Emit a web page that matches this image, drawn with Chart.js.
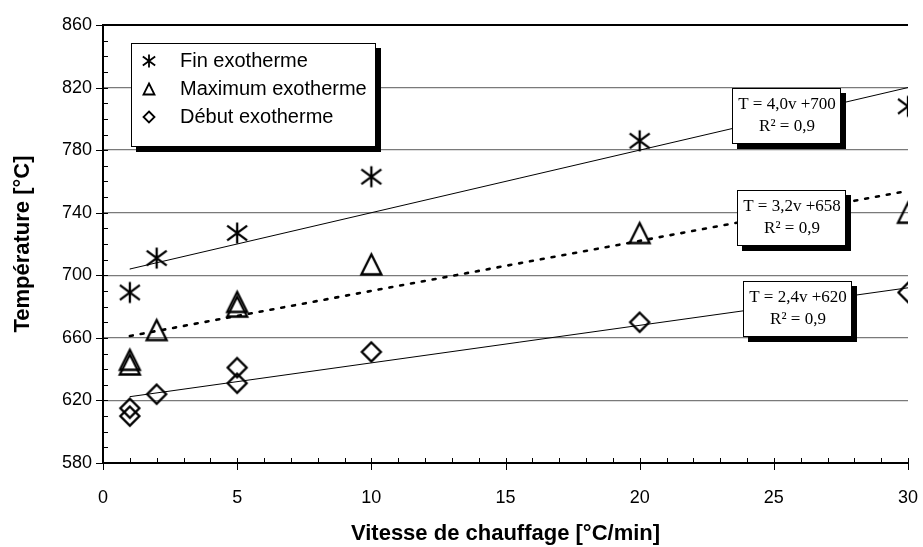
<!DOCTYPE html>
<html lang="fr">
<head>
<meta charset="utf-8">
<title>Température des exothermes</title>
<script src="https://cdn.jsdelivr.net/npm/chart.js@4.4.1/dist/chart.umd.min.js"></script>
<style>
  html, body { margin: 0; padding: 0; background: #fff; }
  #wrap { width: 923px; height: 547px; }
</style>
</head>
<body>
<div id="wrap"><canvas id="exoChart" width="923" height="547"></canvas></div>
<script>
// measured points: heating rate (°C/min) -> temperature (°C)
const seriesLabels = ['Fin exotherme', 'Maximum exotherme', 'Début exotherme'];
const finSpeed = [1, 2, 5, 10, 20, 30];
const finTemp  = [689, 711, 727, 763, 786, 808];
const maxSpeed = [1, 1, 2, 5, 5, 10, 20, 30];
const maxTemp  = [646, 643, 665, 683, 680, 707, 727, 740];
const debSpeed = [1, 1, 2, 5, 5, 10, 20, 30];
const debTemp  = [615, 610, 624, 641, 631, 651, 670, 689];

// linear fits T = a.v + b, drawn over v = 1..30
const fitSlope = [4.0, 3.2, 2.4];
const fitIntercept = [700, 658, 620];
const fitR2 = [0.9, 0.9, 0.9];
const fitRange = [1, 30];

const xTicks = [0, 5, 10, 15, 20, 25, 30];
const yTicks = [580, 620, 660, 700, 740, 780, 820, 860];

const SANS = "'Liberation Sans', Arial, sans-serif";
const SERIF = "'Liberation Serif', 'Times New Roman', serif";
const markerKinds = ['asterisk', 'triangle', 'diamond'];

function drawMarker(ctx, kind, cx, cy, s, lw) {
  const h = s / 2;
  ctx.save();
  ctx.strokeStyle = '#000';
  ctx.lineWidth = lw;
  ctx.beginPath();
  if (kind === 'asterisk') {
    ctx.moveTo(cx, cy - h); ctx.lineTo(cx, cy + h);
    ctx.moveTo(cx - h * 0.95, cy - h * 0.7); ctx.lineTo(cx + h * 0.95, cy + h * 0.7);
    ctx.moveTo(cx - h * 0.95, cy + h * 0.7); ctx.lineTo(cx + h * 0.95, cy - h * 0.7);
  } else if (kind === 'triangle') {
    ctx.moveTo(cx, cy - h); ctx.lineTo(cx + h, cy + h); ctx.lineTo(cx - h, cy + h);
    ctx.closePath();
  } else {
    ctx.moveTo(cx, cy - h); ctx.lineTo(cx + h, cy); ctx.lineTo(cx, cy + h); ctx.lineTo(cx - h, cy);
    ctx.closePath();
  }
  ctx.stroke();
  ctx.restore();
}

function markerCanvas(kind, s, lw) {
  const c = document.createElement('canvas');
  const size = Math.ceil(s + lw * 2 + 2);
  c.width = c.height = size;
  drawMarker(c.getContext('2d'), kind, size / 2, size / 2, s, lw);
  return c;
}

const pts = (xs, ys) => xs.map((v, i) => ({ x: v, y: ys[i] }));
const fitLine = i => fitRange.map(v => ({ x: v, y: fitSlope[i] * v + fitIntercept[i] }));
const frNum = (v, d) => v.toFixed(d).replace('.', ',');

function shadowBox(ctx, x, y, w, h) {
  ctx.fillStyle = '#000';
  ctx.fillRect(x + 5, y + 5, w, h);
  ctx.fillStyle = '#fff';
  ctx.fillRect(x, y, w, h);
  ctx.strokeStyle = '#000';
  ctx.lineWidth = 1;
  ctx.strokeRect(x + 0.5, y + 0.5, w - 1, h - 1);
}

// axis tick marks: majors cross the axis, minors point inward
const tickMarks = {
  id: 'tickMarks',
  afterDraw(chart) {
    const { ctx, chartArea: a, scales: { x, y } } = chart;
    ctx.save();
    ctx.strokeStyle = '#000';
    ctx.lineWidth = 1;
    ctx.beginPath();
    for (let v = x.min; v <= x.max; v++) {
      const px = Math.round(x.getPixelForValue(v)) + 0.5;
      ctx.moveTo(px, a.bottom - 5);
      ctx.lineTo(px, a.bottom + (v % 5 === 0 ? 7 : 0));
    }
    for (let v = y.min; v <= y.max; v += 10) {
      const py = Math.round(y.getPixelForValue(v)) + 0.5;
      ctx.moveTo(a.left - ((v - y.min) % 40 === 0 ? 7 : 0), py);
      ctx.lineTo(a.left + 5, py);
    }
    ctx.stroke();
    ctx.restore();
  }
};

// framed legend and regression labels with drop shadow
const boxes = {
  id: 'boxes',
  afterDatasetsDraw(chart) {
    const ctx = chart.ctx;
    ctx.save();

    shadowBox(ctx, 131, 43, 245, 104);
    ctx.font = '20px ' + SANS;
    ctx.fillStyle = '#000';
    ctx.textBaseline = 'middle';
    ctx.textAlign = 'left';
    const legendSize = [13, 11, 11];
    seriesLabels.forEach((label, i) => {
      const ry = 61 + i * 28;
      drawMarker(ctx, markerKinds[i], 149, ry, legendSize[i], 1.8);
      ctx.fillStyle = '#000';
      ctx.fillText(label, 180, ry);
    });

    const eqBoxes = [[732, 88], [737, 190], [743, 281]];
    ctx.font = '17px ' + SERIF;
    ctx.textAlign = 'center';
    eqBoxes.forEach(([bx, by], i) => {
      shadowBox(ctx, bx, by, 109, 56);
      ctx.fillStyle = '#000';
      const cx = bx + 55;
      ctx.fillText('T = ' + frNum(fitSlope[i], 1) + 'v +' + fitIntercept[i], cx, by + 17);
      ctx.fillText('R\u00b2 = ' + frNum(fitR2[i], 1), cx, by + 39);
    });
    ctx.restore();
  }
};

const pointSets = [pts(finSpeed, finTemp), pts(maxSpeed, maxTemp), pts(debSpeed, debTemp)];
const pointSizes = [21, 20, 19];

const datasets = pointSets.map((d, i) => ({
  label: seriesLabels[i],
  data: d,
  pointStyle: markerCanvas(markerKinds[i], pointSizes[i], 2.3),
  showLine: false
}));
[0, 1, 2].forEach(i => datasets.push({
  label: 'fit ' + i,
  data: fitLine(i),
  showLine: true,
  pointRadius: 0,
  borderColor: '#000',
  borderWidth: i === 1 ? 2.6 : 1,
  borderDash: i === 1 ? [3, 8] : [],
  borderCapStyle: 'round'
}));

new Chart(document.getElementById('exoChart'), {
  type: 'scatter',
  data: { datasets },
  plugins: [tickMarks, boxes],
  options: {
    responsive: false,
    animation: false,
    devicePixelRatio: 1,
    layout: { padding: { top: 25, right: 15, left: 0, bottom: 0 } },
    plugins: { legend: { display: false }, tooltip: { enabled: false } },
    scales: {
      x: {
        type: 'linear',
        min: xTicks[0],
        max: xTicks[xTicks.length - 1],
        afterBuildTicks: s => { s.ticks = xTicks.map(v => ({ value: v })); },
        afterFit: s => { s.height = 84; s.paddingLeft = 0; s.paddingRight = 0; },
        grid: { display: false, drawTicks: false },
        border: { display: true, color: '#000', width: 2 },
        ticks: { color: '#000', padding: 24, font: { family: SANS, size: 18 } },
        title: {
          display: true,
          text: 'Vitesse de chauffage [°C/min]',
          color: '#000',
          padding: { top: 9, bottom: 0 },
          font: { family: SANS, size: 22, weight: 'bold' }
        }
      },
      y: {
        min: yTicks[0],
        max: yTicks[yTicks.length - 1],
        afterBuildTicks: s => { s.ticks = yTicks.map(v => ({ value: v })); },
        afterFit: s => { s.width = 103; s.paddingTop = 0; s.paddingBottom = 0; },
        grid: {
          drawTicks: false,
          color: c => c.tick && c.tick.value === 860 ? '#000' : '#7a7a7a',
          lineWidth: c => c.tick && c.tick.value === 860 ? 2 : 1.3
        },
        border: { display: true, color: '#000', width: 2 },
        ticks: { color: '#000', padding: 11, font: { family: SANS, size: 18 } },
        title: {
          display: true,
          text: 'Température [°C]',
          color: '#000',
          padding: { top: 10, bottom: 0 },
          font: { family: SANS, size: 22, weight: 'bold' }
        }
      }
    }
  }
});
</script>
</body>
</html>
